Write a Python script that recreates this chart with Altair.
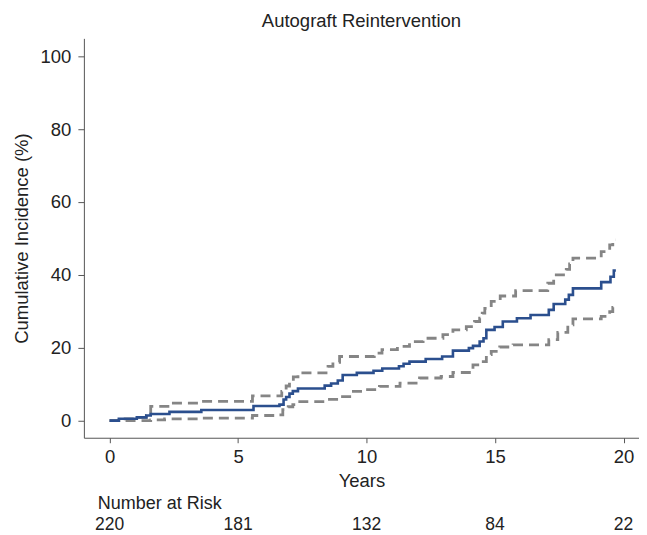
import altair as alt
import pandas as pd

# Cumulative incidence (step function) - main estimate
est_t = [0, 0.36, 1.06, 1.43, 1.6, 2.33, 3.57, 5.6, 6.61, 6.77, 6.87, 7.0, 7.13, 7.33,
         8.37, 8.62, 8.88, 9.07, 9.62, 10.27, 10.61, 11.26, 11.44, 11.67, 12.3, 12.94,
         13.36, 13.98, 14.14, 14.4, 14.55, 14.66, 14.98, 15.3, 15.85, 16.38, 17.09,
         17.28, 17.73, 17.87, 18.03, 19.13, 19.49, 19.62, 19.7]
est_v = [0, 0.5, 0.9, 1.4, 1.8, 2.4, 2.9, 4.0, 4.4, 5.8, 6.5, 7.4, 8.1, 8.8,
         9.6, 10.2, 11.0, 12.5, 13.1, 13.7, 14.3, 14.9, 15.6, 16.2, 16.9, 17.6,
         19.2, 19.9, 20.5, 21.7, 22.6, 24.9, 25.7, 27.2, 28.1, 29.0, 30.4,
         32.0, 33.2, 34.5, 36.3, 38.0, 39.5, 41.2, 41.2]

# Upper confidence limit
up_t = [0, 0.36, 1.06, 1.43, 1.6, 2.27, 3.57, 5.56, 6.7, 6.87, 7.0, 7.15, 7.33,
        8.5, 8.69, 8.95, 10.3, 10.6, 11.2, 11.67, 12.2, 12.97, 13.36, 13.88, 14.2,
        14.4, 14.5, 14.6, 14.85, 15.2, 15.8, 17.05, 17.28, 17.77, 17.9, 18.03,
        19.13, 19.46, 19.58, 19.7]
up_v = [0, 0.5, 0.9, 1.4, 3.9, 4.8, 5.3, 6.8, 8.0, 9.5, 10.8, 12.0, 13.1,
        14.9, 16.0, 17.6, 18.5, 19.5, 20.4, 21.7, 22.6, 23.6, 24.9, 25.8, 27.2,
        28.1, 29.5, 30.8, 32.7, 34.2, 35.7, 37.7, 40.0, 41.5, 43.0, 44.6,
        46.4, 48.2, 49.6, 49.6]

# Lower confidence limit
lo_t = [0, 1.6, 2.14, 3.57, 5.56, 6.6, 6.74, 6.95, 7.13, 7.4, 8.4, 8.9, 9.4, 9.9,
        10.5, 11.3, 12.06, 12.9, 13.36, 14.0, 14.14, 14.46, 14.66, 14.85, 15.18,
        15.7, 17.09, 17.44, 17.83, 18.03, 19.13, 19.46, 19.58, 19.7]
lo_v = [0, 0.2, 0.5, 0.7, 1.4, 1.6, 3.0, 3.8, 4.4, 5.2, 5.8, 6.6, 8.0, 8.5,
        9.4, 10.3, 11.7, 12.1, 13.2, 14.1, 15.3, 16.2, 18.1, 19.0, 20.2,
        20.8, 22.2, 24.2, 26.3, 27.9, 28.6, 29.9, 31.1, 31.1]

risk_years = [0, 5, 10, 15, 20]
risk_counts = ["220", "181", "132", "84", "22"]

x_ticks = [0, 5, 10, 15, 20]
y_ticks = [0, 20, 40, 60, 80, 100]

FONT = "Liberation Sans"
FS = 18.5
FS_RISK = 17.5

est_df = pd.DataFrame({"t": est_t, "v": est_v})
up_df = pd.DataFrame({"t": up_t, "v": up_v})
lo_df = pd.DataFrame({"t": lo_t, "v": lo_v})
risk_df = pd.DataFrame({"t": risk_years, "n": risk_counts})

xscale = alt.Scale(domain=[-1.0, 20.6], nice=False, zero=False)
yscale = alt.Scale(domain=[-4.7, 104.9], nice=False, zero=False)

xaxis = alt.Axis(values=x_ticks, title="Years", grid=False, tickSize=5, labelPadding=5,
                 titlePadding=5, labelFontSize=FS, titleFontSize=FS, titleFontWeight="normal",
                 labelFont=FONT, titleFont=FONT, domainColor="#555", tickColor="#555",
                 labelColor="#222", titleColor="#222", labelFlush=False)
yaxis = alt.Axis(values=y_ticks, title="Cumulative Incidence (%)", grid=False, tickSize=6,
                 labelPadding=7, titlePadding=9, labelFontSize=FS, titleFontSize=FS,
                 titleFontWeight="normal", labelFont=FONT, titleFont=FONT,
                 domainColor="#555", tickColor="#555", labelColor="#222",
                 titleColor="#222", labelFlush=False)

def ci_line(df):
    return alt.Chart(df).mark_line(interpolate="step-after", color="#858585",
                                   strokeWidth=2.8, strokeDash=[10, 6]).encode(
        x=alt.X("t:Q", scale=xscale, axis=xaxis),
        y=alt.Y("v:Q", scale=yscale, axis=yaxis),
    )

upper = ci_line(up_df)
lower = ci_line(lo_df)

est = alt.Chart(est_df).mark_line(interpolate="step-after", color="#2b4f8e",
                                  strokeWidth=2.6).encode(
    x=alt.X("t:Q", scale=xscale, axis=xaxis),
    y=alt.Y("v:Q", scale=yscale, axis=yaxis),
)

risk_nums = alt.Chart(risk_df).mark_text(font=FONT, fontSize=FS_RISK, color="#222",
                                         align="center", baseline="alphabetic").encode(
    x=alt.X("t:Q", scale=xscale),
    y=alt.value(492),
    text="n:N",
)

risk_label = alt.Chart(pd.DataFrame({"label": ["Number at Risk"]})).mark_text(
    font=FONT, fontSize=FS_RISK + 0.5, color="#222", align="left", baseline="alphabetic").encode(
    x=alt.value(14),
    y=alt.value(471),
    text="label:N",
)

chart = alt.layer(upper, lower, est, risk_nums, risk_label).properties(
    width=556, height=400,
    title=alt.Title("Autograft Reintervention", fontSize=FS, font=FONT,
                    fontWeight="normal", color="#222", anchor="middle", offset=8),
    autosize="none",
    padding={"left": 76, "top": 30, "right": 0, "bottom": 97},
).configure_view(stroke=None)

chart.save("out.html", embed_options={"renderer": "svg", "actions": False})
